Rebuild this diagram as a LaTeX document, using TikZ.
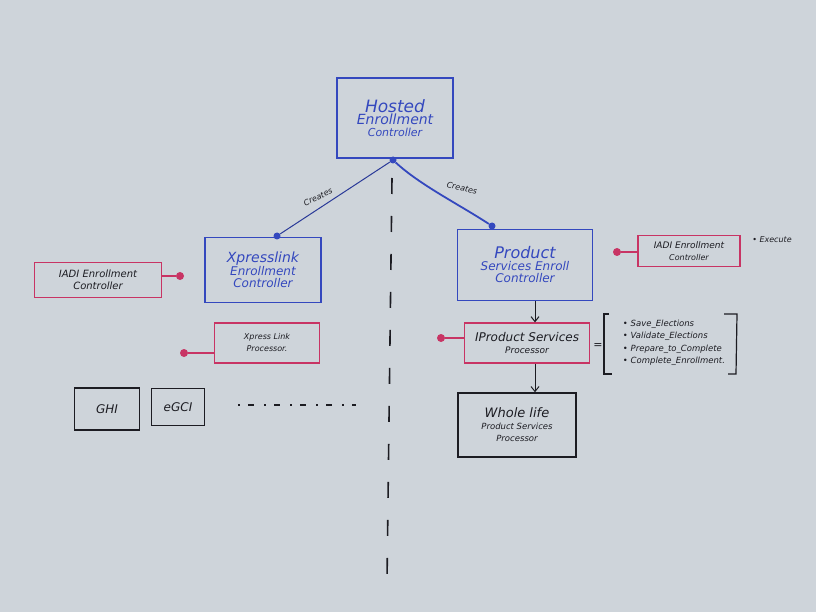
\documentclass[tikz,border=0pt]{standalone}
\usepackage{fontspec}
\setmainfont{DejaVu Sans}
\usetikzlibrary{arrows.meta,calc}
\definecolor{board}{RGB}{206,212,218}
\definecolor{mblue}{RGB}{52,72,190}
\definecolor{mpink}{RGB}{200,52,100}
\definecolor{mblack}{RGB}{28,28,34}
\tikzset{
  bluebox/.style={draw=mblue,line width=1.4pt,text=mblue,align=center,inner sep=2pt,font=\itshape},
  pinkbox/.style={draw=mpink,line width=1.2pt,text=mblack,align=center,inner sep=2pt,font=\itshape},
  blackbox/.style={draw=mblack,line width=1.4pt,text=mblack,align=center,inner sep=2pt,font=\itshape},
  bdot/.style={circle,fill=mblue,inner sep=0pt,minimum size=7pt},
  pdot/.style={circle,fill=mpink,inner sep=0pt,minimum size=8pt},
  link/.style={line width=1pt},
  lbl/.style={font=\itshape\fontsize{8}{9}\selectfont,text=mblack,inner sep=1pt},
  arr/.style={line width=1pt,draw=mblack,-{Straight Barb[length=5pt,width=8pt]}}
}
\begin{document}
\begin{tikzpicture}[x=1pt,y=-1pt]
\useasboundingbox (0,0) rectangle (816,612);
\fill[board] (0,0) rectangle (816,612);
% main boxes
\node[bluebox,minimum width=116pt,minimum height=80pt] (hosted) at (395,118)
  {\fontsize{17}{19}\selectfont Hosted\\\fontsize{14}{16}\selectfont Enrollment\\\fontsize{11}{13}\selectfont Controller};
\node[bdot] (hdot) at (393,160) {};
\node[bluebox,minimum width=116pt,minimum height=65pt] (xpress) at (263,270)
  {\fontsize{14}{16}\selectfont Xpresslink\\\fontsize{12}{14}\selectfont Enrollment\\\fontsize{12}{14}\selectfont Controller};
\node[bdot] (xdot) at (277,236) {};
\node[bluebox,minimum width=135pt,minimum height=71pt] (psec) at (525,265)
  {\fontsize{16}{18}\selectfont Product\\\fontsize{12}{14}\selectfont Services Enroll\\\fontsize{12}{14}\selectfont Controller};
\node[bdot] (pdot1) at (492,226) {};
\draw[link,draw=mblue!80!black] (hdot) -- (xdot);
\node[lbl,rotate=26] (crt1) at (318,197) {Creates};
\draw[link,draw=mblue,line width=1.8pt] (hdot) .. controls (420,185) and (460,205) .. (pdot1);
\node[lbl,rotate=-12] (crt2) at (462,188) {Creates};
% dashed divider
\coordinate (dtop) at (392,178);
\coordinate (dbot) at (387,582);
\draw[mblack,line width=1.6pt,dash pattern=on 16pt off 22pt] (dtop) -- (dbot);
% IADI left
\node[pinkbox,minimum width=127pt,minimum height=35pt] (iadil) at (98,280)
  {\fontsize{10}{11}\selectfont IADI Enrollment\\\fontsize{10}{11}\selectfont Controller};
\node[pdot] (iadildot) at (180,276) {};
\draw[mpink,line width=1.2pt] (iadil.east |- iadildot) -- (iadildot);
% Xpress link processor
\node[pinkbox,minimum width=105pt,minimum height=40pt] (xproc) at (267,343)
  {\fontsize{8}{9}\selectfont Xpress Link\\\fontsize{8}{9}\selectfont Processor.};
\node[pdot] (xprocdot) at (184,353) {};
\draw[mpink,line width=1.2pt] (xprocdot) -- (xproc.west |- xprocdot);
% IProduct Services Processor
\node[pinkbox,minimum width=125pt,minimum height=40pt] (iproc) at (527,343)
  {\fontsize{12}{13}\selectfont IProduct Services\\\fontsize{9}{10}\selectfont Processor};
\node[pdot] (iprocdot) at (441,338) {};
\draw[mpink,line width=1.2pt] (iprocdot) -- (iproc.west |- iprocdot);
\draw[arr] (psec.south -| 535,0) -- (iproc.north -| 535,0);
% whole life
\node[blackbox,minimum width=118pt,minimum height=64pt] (whole) at (517,425)
  {\fontsize{13}{15}\selectfont Whole life\\\fontsize{8.5}{10}\selectfont Product Services\\\fontsize{8.5}{10}\selectfont Processor};
\draw[arr] (iproc.south -| 535,0) -- (whole.north -| 535,0);
% equals and list
\node[lbl,font=\fontsize{11}{12}\selectfont] (eq) at (598,346) {=};
\node[text=mblack,align=left,font=\itshape\fontsize{8.5}{12.5}\selectfont,inner sep=0pt] (list) at (674,343)
  {• Save\_Elections\\• Validate\_Elections\\• Prepare\_to\_Complete\\• Complete\_Enrollment.};
\draw[mblack,line width=1.2pt] (609,314) -- (604,314) -- (604,374) -- (612,374);
\draw[mblack,line width=1.2pt] (724,314) -- (737,314) -- (736,374) -- (728,374);
% IADI right
\node[pinkbox,minimum width=102pt,minimum height=31pt] (iadir) at (689,251)
  {\fontsize{9}{10}\selectfont IADI Enrollment\\\fontsize{8}{9}\selectfont Controller};
\node[pdot] (iadirdot) at (617,252) {};
\draw[mpink,line width=1.2pt] (iadirdot) -- (iadir.west |- iadirdot);
\node[lbl] (exec) at (772,240) {• Execute};
% GHI, eGCI
\node[blackbox,minimum width=65pt,minimum height=42pt] (ghi) at (107,409) {\fontsize{12}{13}\selectfont GHI};
\node[blackbox,minimum width=53pt,minimum height=37pt] (egci) at (178,407) {\fontsize{12}{13}\selectfont eGCI};
\coordinate (dl1) at (238,405);
\coordinate (dl2) at (356,405);
\draw[mblack,line width=1.2pt,dash pattern=on 2pt off 8pt on 6pt off 10pt] (dl1) -- (dl2);
\end{tikzpicture}
\end{document}
